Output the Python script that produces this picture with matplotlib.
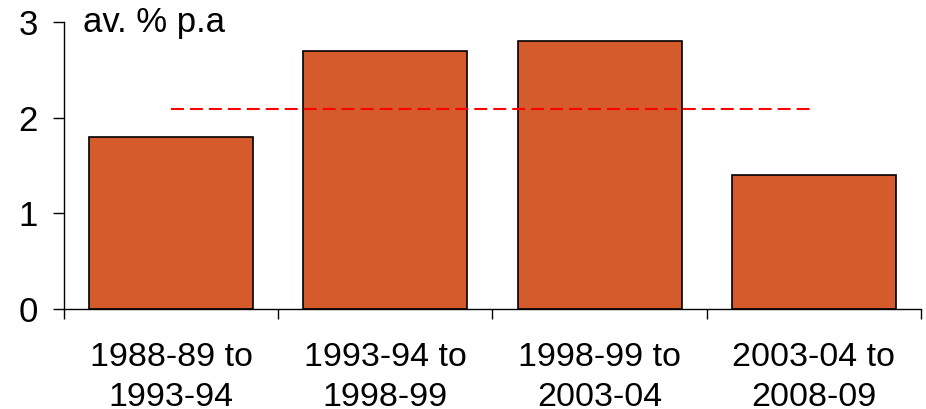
import numpy as np
import matplotlib.pyplot as plt

plt.rcParams['font.family'] = ['Liberation Sans', 'DejaVu Sans']

# Average annual growth by five-year period
periods = ['1988-89 to\n1993-94', '1993-94 to\n1998-99', '1998-99 to\n2003-04', '2003-04 to\n2008-09']
growth = [1.8, 2.7, 2.8, 1.4]
long_run_avg = 2.09

fig = plt.figure(figsize=(9.26, 4.09), dpi=100)
ax = fig.add_axes([0.0691, 0.2457, 0.9255, 0.7005])

x = np.arange(len(periods))
ax.bar(x, growth, width=0.765, color='#D55A2C', edgecolor='black', linewidth=1.2, zorder=2)
ax.plot([x[0], x[-1]], [long_run_avg, long_run_avg], color='red', linestyle=(0, (6.2, 2.9)),
        linewidth=1.5, zorder=3)

ax.set_xlim(-0.5, len(periods) - 0.5)
ax.set_ylim(0, 3)
ax.set_yticks([0, 1, 2, 3])
ax.set_xticks(np.arange(len(periods) + 1) - 0.5, minor=False)
ax.set_xticklabels([])
ax.set_xticks(x, minor=True)
ax.set_xticklabels(periods, minor=True, fontsize=24.5, linespacing=1.4)
ax.tick_params(axis='x', which='minor', length=0, pad=24)
ax.tick_params(axis='x', which='major', direction='out', length=7, width=1)
ax.tick_params(axis='y', direction='out', length=8, width=1, labelsize=25, pad=11)

for side in ['top', 'right']:
    ax.spines[side].set_visible(False)
for side in ['left', 'bottom']:
    ax.spines[side].set_linewidth(1)

ax.text(0.022, 1.0, 'av. % p.a', transform=ax.transAxes, fontsize=25, va='center', ha='left')

fig.savefig('out.png', dpi=100)
